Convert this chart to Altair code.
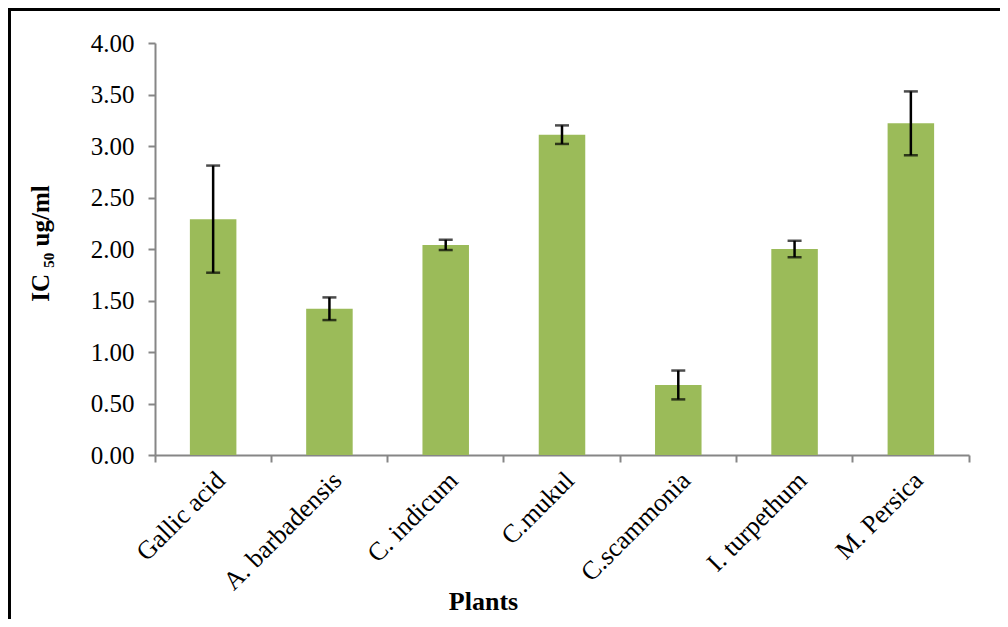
import altair as alt
import pandas as pd

plants = ["Gallic acid", "A. barbadensis", "C. indicum", "C.mukul",
          "C.scammonia", "I. turpethum", "M. Persica"]
ic50 = [2.29, 1.42, 2.04, 3.11, 0.68, 2.00, 3.22]
err = [0.52, 0.11, 0.05, 0.09, 0.14, 0.08, 0.31]
y_ticks = [0, 0.5, 1.0, 1.5, 2.0, 2.5, 3.0, 3.5, 4.0]

df = pd.DataFrame({"plant": plants, "ic50": ic50, "err": err})
df["lo"] = df["ic50"] - df["err"]
df["hi"] = df["ic50"] + df["err"]

FONT = "Liberation Serif"
GRAY = "#868686"

xenc = alt.X("plant:N", sort=plants,
             scale=alt.Scale(paddingInner=0, paddingOuter=0),
             axis=alt.Axis(title="Plants", labelAngle=-45, labelAlign="right",
                           labelBaseline="middle", labelFont=FONT, labelFontSize=26,
                           labelColor="#000000", labelPadding=14, labelOffset=8,
                           bandPosition=1, tickExtra=True, tickSize=7,
                           tickColor=GRAY, tickWidth=2, domainColor=GRAY,
                           domainWidth=2, titleFont=FONT, titleFontSize=26,
                           titleFontWeight="bold", titleColor="#000000",
                           titleX=328, titleY=146, titleAlign="center",
                           titleBaseline="middle"))

yscale = alt.Scale(domain=[0, 4], nice=False)

bars = alt.Chart(df).mark_bar(color="#9BBB59", width=alt.RelativeBandSize(0.4)).encode(
    x=xenc,
    y=alt.Y("ic50:Q", scale=yscale,
            axis=alt.Axis(title="IC ₅₀ ug/ml", values=y_ticks, format=".2f",
                          grid=False, labelFont=FONT, labelFontSize=25,
                          labelColor="#000000", labelPadding=14, tickSize=7,
                          tickColor=GRAY, tickWidth=2, domainColor=GRAY,
                          domainWidth=2, titleFont=FONT, titleFontSize=25,
                          titleFontWeight="bold", titleColor="#000000",
                          titleX=-115, titleY=200, titleAngle=-90,
                          titleAlign="center", titleBaseline="middle")),
)

rules = alt.Chart(df).mark_rule(color="#000000", strokeWidth=2.5).encode(
    x=alt.X("plant:N", sort=plants), y="lo:Q", y2="hi:Q")
caps_hi = alt.Chart(df).mark_tick(color="#000000", size=14, thickness=2.5).encode(
    x=alt.X("plant:N", sort=plants), y="hi:Q")
caps_lo = alt.Chart(df).mark_tick(color="#000000", size=14, thickness=2.5).encode(
    x=alt.X("plant:N", sort=plants), y="lo:Q")

frame = alt.Chart(df).mark_rect(fill=None, stroke="#000000", strokeWidth=3,
                                clip=False).encode(
    x=alt.value(-146), x2=alt.value(900), y=alt.value(-33.5), y2=alt.value(700))

chart = alt.layer(bars, rules, caps_hi, caps_lo, frame).properties(
    width=814, height=412,
    autosize=alt.AutoSizeParams(type="none"),
    padding={"left": 147, "top": 35, "right": 31, "bottom": 164},
).configure_view(stroke=None)

chart.save("out.html", embed_options={"renderer": "svg", "actions": False})
